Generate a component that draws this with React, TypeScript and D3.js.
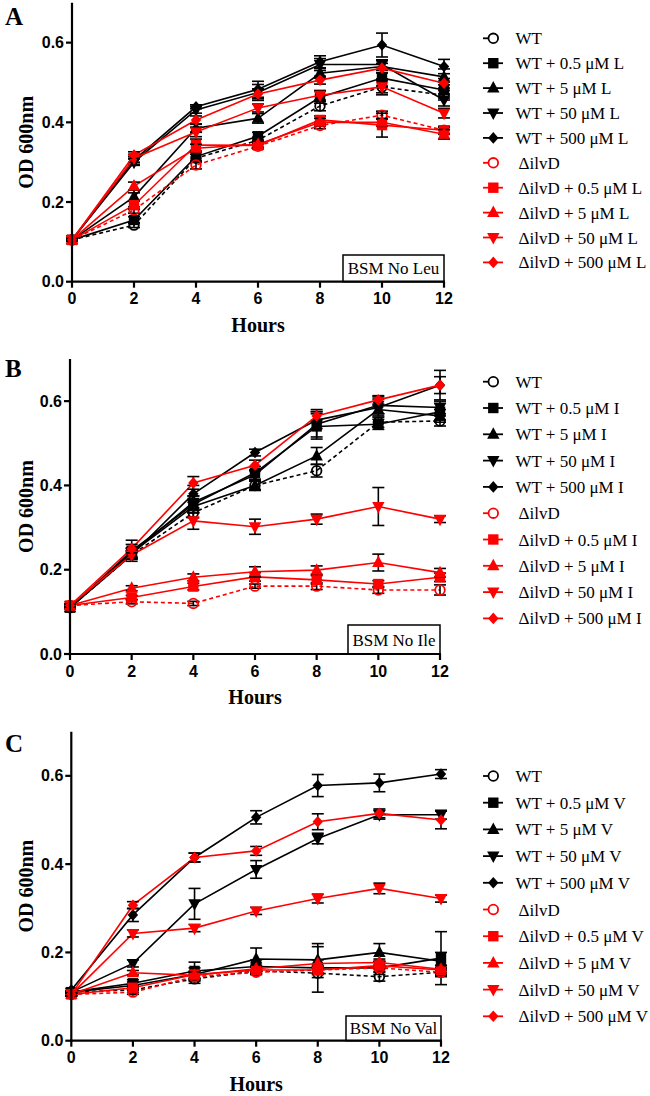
import React from 'react';
import * as d3 from 'd3';

const HOURS = [0, 2, 4, 6, 8, 10, 12];
const X_TICKS = [0, 2, 4, 6, 8, 10, 12];
const Y_TICKS = [0, 0.2, 0.4, 0.6];
const SERIES_BASE = [
  'WT', 'WT + 0.5 μM', 'WT + 5 μM', 'WT + 50 μM', 'WT + 500 μM',
  'ΔilvD', 'ΔilvD + 0.5 μM', 'ΔilvD + 5 μM', 'ΔilvD + 50 μM', 'ΔilvD + 500 μM',
];

// Panel A: BSM No Leu
const leuMeans = [
  [0.105, 0.142, 0.31, 0.355, 0.441, 0.489, 0.468],
  [0.105, 0.155, 0.314, 0.365, 0.463, 0.511, 0.481],
  [0.105, 0.213, 0.385, 0.41, 0.523, 0.54, 0.514],
  [0.105, 0.3, 0.431, 0.475, 0.545, 0.545, 0.456],
  [0.105, 0.305, 0.439, 0.483, 0.552, 0.594, 0.54],
  [0.105, 0.18, 0.293, 0.34, 0.392, 0.418, 0.38],
  [0.105, 0.192, 0.343, 0.342, 0.406, 0.393, 0.38],
  [0.105, 0.24, 0.335, 0.345, 0.4, 0.4, 0.37],
  [0.105, 0.31, 0.376, 0.436, 0.468, 0.489, 0.423],
  [0.105, 0.318, 0.406, 0.471, 0.506, 0.536, 0.498],
];
const leuErrors = [
  [0.003, 0.006, 0.01, 0.008, 0.012, 0.02, 0.012],
  [0.003, 0.008, 0.012, 0.01, 0.015, 0.02, 0.02],
  [0.003, 0.01, 0.01, 0.012, 0.012, 0.015, 0.02],
  [0.003, 0.008, 0.008, 0.02, 0.015, 0.012, 0.015],
  [0.003, 0.01, 0.005, 0.02, 0.015, 0.03, 0.018],
  [0.003, 0.008, 0.01, 0.006, 0.008, 0.01, 0.008],
  [0.003, 0.01, 0.015, 0.008, 0.01, 0.03, 0.01],
  [0.003, 0.01, 0.01, 0.008, 0.01, 0.01, 0.012],
  [0.003, 0.01, 0.012, 0.01, 0.012, 0.015, 0.012],
  [0.003, 0.008, 0.01, 0.012, 0.01, 0.012, 0.012],
];

// Panel B: BSM No Ile
const ileMeans = [
  [0.11, 0.235, 0.335, 0.4, 0.435, 0.55, 0.553],
  [0.11, 0.245, 0.355, 0.43, 0.54, 0.545, 0.575],
  [0.11, 0.24, 0.35, 0.4, 0.47, 0.58, 0.565],
  [0.11, 0.24, 0.36, 0.425, 0.545, 0.59, 0.585],
  [0.11, 0.235, 0.38, 0.478, 0.555, 0.585, 0.638],
  [0.115, 0.124, 0.12, 0.161, 0.161, 0.152, 0.152],
  [0.115, 0.134, 0.16, 0.183, 0.176, 0.166, 0.182],
  [0.115, 0.156, 0.182, 0.195, 0.199, 0.217, 0.193],
  [0.115, 0.235, 0.316, 0.302, 0.32, 0.35, 0.32],
  [0.115, 0.25, 0.406, 0.448, 0.565, 0.603, 0.638],
];
const ileErrors = [
  [0.003, 0.01, 0.012, 0.01, 0.015, 0.012, 0.012],
  [0.003, 0.025, 0.02, 0.015, 0.03, 0.012, 0.02],
  [0.003, 0.012, 0.015, 0.012, 0.02, 0.01, 0.015],
  [0.003, 0.01, 0.015, 0.012, 0.03, 0.02, 0.015],
  [0.003, 0.008, 0.02, 0.008, 0.02, 0.02, 0.035],
  [0.003, 0.005, 0.005, 0.005, 0.008, 0.008, 0.012],
  [0.003, 0.005, 0.008, 0.01, 0.01, 0.008, 0.01],
  [0.003, 0.006, 0.008, 0.012, 0.01, 0.02, 0.01],
  [0.003, 0.01, 0.02, 0.018, 0.012, 0.045, 0.008],
  [0.003, 0.01, 0.015, 0.012, 0.015, 0.01, 0.02],
];

// Panel C: BSM No Val
const valMeans = [
  [0.11, 0.115, 0.14, 0.158, 0.153, 0.145, 0.155],
  [0.11, 0.13, 0.158, 0.168, 0.165, 0.165, 0.187],
  [0.11, 0.125, 0.15, 0.185, 0.183, 0.2, 0.18],
  [0.11, 0.175, 0.31, 0.388, 0.458, 0.512, 0.512],
  [0.115, 0.285, 0.415, 0.506, 0.578, 0.584, 0.604],
  [0.105, 0.11, 0.145, 0.155, 0.16, 0.165, 0.155],
  [0.105, 0.12, 0.15, 0.16, 0.16, 0.17, 0.16],
  [0.105, 0.154, 0.148, 0.163, 0.175, 0.177, 0.162],
  [0.105, 0.243, 0.255, 0.294, 0.322, 0.345, 0.322],
  [0.105, 0.307, 0.415, 0.43, 0.496, 0.515, 0.5],
];
const valErrors = [
  [0.003, 0.006, 0.01, 0.008, 0.01, 0.01, 0.01],
  [0.003, 0.008, 0.02, 0.015, 0.055, 0.015, 0.06],
  [0.003, 0.008, 0.015, 0.025, 0.03, 0.02, 0.02],
  [0.003, 0.008, 0.035, 0.02, 0.012, 0.01, 0.01],
  [0.003, 0.015, 0.01, 0.015, 0.025, 0.02, 0.01],
  [0.003, 0.005, 0.008, 0.005, 0.008, 0.008, 0.008],
  [0.003, 0.005, 0.008, 0.008, 0.01, 0.008, 0.01],
  [0.003, 0.005, 0.008, 0.008, 0.008, 0.008, 0.008],
  [0.003, 0.008, 0.008, 0.008, 0.01, 0.012, 0.008],
  [0.003, 0.008, 0.01, 0.01, 0.018, 0.01, 0.02],
];

const PANELS = [
  { letter: 'A', aa: 'L', box: 'BSM No Leu', means: leuMeans, errors: leuErrors,
    left: 72, right: 444, y0: 281.7, y7: 2.8, letterY: 25,
    legendY: 38.3, legendStep: 24.9, boxX0: 343, boxY0: 255 },
  { letter: 'B', aa: 'I', box: 'BSM No Ile', means: ileMeans, errors: ileErrors,
    left: 70, right: 440, y0: 654, y7: 359, letterY: 377,
    legendY: 381.7, legendStep: 26.3, boxX0: 348, boxY0: 625 },
  { letter: 'C', aa: 'V', box: 'BSM No Val', means: valMeans, errors: valErrors,
    left: 71.3, right: 441, y0: 1040.7, y7: 731.7, letterY: 752,
    legendY: 776, legendStep: 26.7, boxX0: 346, boxY0: 1016 },
];

const SERIF = '"Liberation Serif", "Times New Roman", serif';
const SANS = '"Liberation Sans", Arial, sans-serif';

function Marker({ kind, x, y, color }: { kind: number; x: number; y: number; color: string }) {
  if (kind === 0) {
    return <circle cx={x} cy={y} r={4.8} fill="none" stroke={color} strokeWidth={1.8} />;
  }
  if (kind === 1) {
    return <rect x={x - 5.2} y={y - 5.2} width={10.4} height={10.4} fill={color} />;
  }
  if (kind === 2) {
    return <path d={`M${x},${y - 7}L${x + 6.2},${y + 4.5}L${x - 6.2},${y + 4.5}Z`} fill={color} />;
  }
  if (kind === 3) {
    return <path d={`M${x},${y + 7}L${x + 6.2},${y - 4.5}L${x - 6.2},${y - 4.5}Z`} fill={color} />;
  }
  return <path d={`M${x},${y - 5.8}L${x + 5.2},${y}L${x},${y + 5.8}L${x - 5.2},${y}Z`} fill={color} />;
}

function Panel({ p }: { p: (typeof PANELS)[number] }) {
  const x = d3.scaleLinear().domain([0, 12]).range([p.left, p.right]);
  const y = d3.scaleLinear().domain([0, 0.7]).range([p.y0, p.y7]);
  const line = d3.line<number>().x((_, i) => x(HOURS[i])).y((d) => y(d));
  const fmt = d3.format('.1f');
  const boxW = p.right - p.boxX0;
  const boxH = p.y0 - p.boxY0;
  return (
    <g>
      <text x={5} y={p.letterY} fontFamily={SERIF} fontWeight="bold" fontSize={25}>{p.letter}</text>
      {/* series */}
      {p.means.map((vals, si) => {
        const color = si < 5 ? '#000' : '#ff0000';
        const kind = si % 5;
        const errs = p.errors[si];
        return (
          <g key={si}>
            <path d={line(vals) || ''} fill="none" stroke={color} strokeWidth={1.6}
              strokeDasharray={kind === 0 ? '4,3' : undefined} />
            {vals.map((v, i) => {
              const e = errs[i];
              const cx = x(HOURS[i]);
              return (
                <g key={'e' + i} stroke="#000" strokeWidth={1.6}>
                  <line x1={cx} x2={cx} y1={y(v - e)} y2={y(v + e)} />
                  <line x1={cx - 6} x2={cx + 6} y1={y(v + e)} y2={y(v + e)} />
                  <line x1={cx - 6} x2={cx + 6} y1={y(v - e)} y2={y(v - e)} />
                </g>
              );
            })}
            {vals.map((v, i) => (
              <Marker key={'m' + i} kind={kind} x={x(HOURS[i])} y={y(v)} color={color} />
            ))}
          </g>
        );
      })}
      {/* box label */}
      <rect x={p.boxX0} y={p.boxY0} width={boxW} height={boxH} fill="#fff" stroke="#000" strokeWidth={1.5} />
      <text x={p.boxX0 + boxW / 2} y={p.boxY0 + boxH / 2 + 6} textAnchor="middle"
        fontFamily={SERIF} fontSize={17}>{p.box}</text>
      {/* axes */}
      <line x1={p.left} x2={p.left} y1={p.y7} y2={p.y0 + 1} stroke="#000" strokeWidth={2.2} />
      <line x1={p.left - 1} x2={p.right + 1} y1={p.y0} y2={p.y0} stroke="#000" strokeWidth={2.2} />
      {Y_TICKS.map((t) => (
        <g key={'y' + t}>
          <line x1={p.left - 6} x2={p.left} y1={y(t)} y2={y(t)} stroke="#000" strokeWidth={2.2} />
          <text x={p.left - 8} y={y(t) + 5.5} textAnchor="end" fontFamily={SANS} fontWeight="bold" fontSize={16}>{fmt(t)}</text>
        </g>
      ))}
      {X_TICKS.map((t) => (
        <g key={'x' + t}>
          <line x1={x(t)} x2={x(t)} y1={p.y0} y2={p.y0 + 6} stroke="#000" strokeWidth={2.2} />
          <text x={x(t)} y={p.y0 + 22.5} textAnchor="middle" fontFamily={SANS} fontWeight="bold" fontSize={16}>{t}</text>
        </g>
      ))}
      <text x={(p.left + p.right) / 2} y={p.y0 + 50} textAnchor="middle" fontFamily={SERIF} fontWeight="bold" fontSize={20}>Hours</text>
      <text transform={`translate(33,${(p.y0 + p.y7) / 2}) rotate(-90)`} textAnchor="middle"
        fontFamily={SERIF} fontWeight="bold" fontSize={20}>OD 600nm</text>
      {/* legend */}
      {SERIES_BASE.map((base, si) => {
        const color = si < 5 ? '#000' : '#ff0000';
        const kind = si % 5;
        const ly = p.legendY + si * p.legendStep;
        const label = kind === 0 ? base : `${base} ${p.aa}`;
        return (
          <g key={'l' + si}>
            {kind === 0 ? (
              <line x1={483} x2={488} y1={ly} y2={ly} stroke={color} strokeWidth={1.8} />
            ) : (
              <line x1={483} x2={503} y1={ly} y2={ly} stroke={color} strokeWidth={1.8} />
            )}
            <Marker kind={kind} x={493.3} y={ly} color={color} />
            <text x={si >= 5 ? 518.5 : 515.5} y={ly + 6} fontFamily={SERIF} fontSize={17}>{label}</text>
          </g>
        );
      })}
    </g>
  );
}

export default function App() {
  return (
    <svg width={650} height={1096} style={{ position: 'absolute', left: 0, top: 0, display: 'block', background: '#fff' }}>
      <rect width={650} height={1096} fill="#fff" />
      {PANELS.map((p) => <Panel key={p.letter} p={p} />)}
    </svg>
  );
}
